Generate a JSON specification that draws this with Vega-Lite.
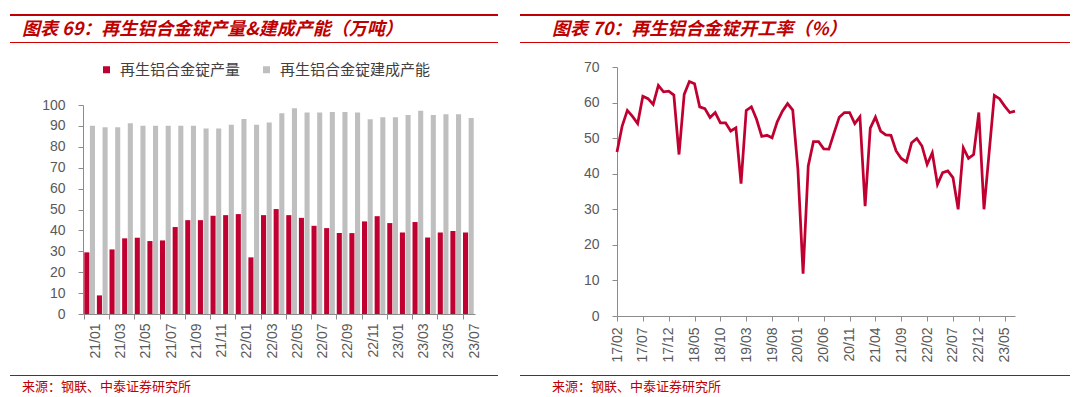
{
  "$schema": "https://vega.github.io/schema/vega-lite/v6.json",
  "padding": {"left": 10, "right": 10, "top": 14, "bottom": 0},
  "spacing": 22,
  "resolve": {"scale": {"color": "independent"}, "legend": {"color": "independent"}},
  "config": {
    "view": {"stroke": null},
    "axis": {"grid": false, "domainColor": "#8c8c8c", "tickColor": "#8c8c8c", "labelColor": "#595959", "labelFont": "Liberation Sans", "labelFontSize": 14, "tickSize": 5, "titleFontSize": 0}
  },
  "hconcat": [
    {
      "spacing": 0,
      "resolve": {"scale": {"color": "independent"}, "legend": {"color": "independent"}},
      "vconcat": [
        {"data": {"values": []}, "mark": "point", "encoding": {}, "width": 488, "height": 2, "view": {"fill": "#c00000", "stroke": null}},
        {"data": {"values": []}, "mark": "point", "encoding": {}, "width": 488, "height": 5},
        {"data": {"values": []}, "mark": "point", "encoding": {}, "width": 488, "height": 1, "view": {"fill": "#cc0000", "stroke": null},
         "title": {"text": "图表 69：再生铝合金锭产量&建成产能（万吨）", "anchor": "start", "offset": 3, "dx": 12, "fontSize": 18, "fontStyle": "italic", "fontWeight": "bold", "color": "#c00000", "font": "Noto Sans CJK SC"}},
        {"data": {"values": []}, "mark": "point", "encoding": {}, "width": 488, "height": 19},
        {
          "spacing": 0,
          "resolve": {"scale": {"color": "independent"}, "legend": {"color": "independent"}},
          "hconcat": [
            {"data": {"values": []}, "mark": "point", "encoding": {}, "width": 31, "height": 1},
            {
              "width": 392,
              "height": 209,
              "data": {"values": [
                {"month": "21/01", "series": "再生铝合金锭产量", "value": 29.5},
                {"month": "21/02", "series": "再生铝合金锭产量", "value": 8.9},
                {"month": "21/03", "series": "再生铝合金锭产量", "value": 30.9},
                {"month": "21/04", "series": "再生铝合金锭产量", "value": 36.2},
                {"month": "21/05", "series": "再生铝合金锭产量", "value": 36.5},
                {"month": "21/06", "series": "再生铝合金锭产量", "value": 34.9},
                {"month": "21/07", "series": "再生铝合金锭产量", "value": 35.2},
                {"month": "21/08", "series": "再生铝合金锭产量", "value": 41.6},
                {"month": "21/09", "series": "再生铝合金锭产量", "value": 44.9},
                {"month": "21/10", "series": "再生铝合金锭产量", "value": 44.9},
                {"month": "21/11", "series": "再生铝合金锭产量", "value": 47.0},
                {"month": "21/12", "series": "再生铝合金锭产量", "value": 47.3},
                {"month": "22/01", "series": "再生铝合金锭产量", "value": 47.8},
                {"month": "22/02", "series": "再生铝合金锭产量", "value": 27.1},
                {"month": "22/03", "series": "再生铝合金锭产量", "value": 47.3},
                {"month": "22/04", "series": "再生铝合金锭产量", "value": 50.2},
                {"month": "22/05", "series": "再生铝合金锭产量", "value": 47.3},
                {"month": "22/06", "series": "再生铝合金锭产量", "value": 46.0},
                {"month": "22/07", "series": "再生铝合金锭产量", "value": 42.2},
                {"month": "22/08", "series": "再生铝合金锭产量", "value": 41.1},
                {"month": "22/09", "series": "再生铝合金锭产量", "value": 38.7},
                {"month": "22/10", "series": "再生铝合金锭产量", "value": 38.7},
                {"month": "22/11", "series": "再生铝合金锭产量", "value": 44.3},
                {"month": "22/12", "series": "再生铝合金锭产量", "value": 46.8},
                {"month": "23/01", "series": "再生铝合金锭产量", "value": 43.5},
                {"month": "23/02", "series": "再生铝合金锭产量", "value": 39.0},
                {"month": "23/03", "series": "再生铝合金锭产量", "value": 44.0},
                {"month": "23/04", "series": "再生铝合金锭产量", "value": 36.6},
                {"month": "23/05", "series": "再生铝合金锭产量", "value": 39.0},
                {"month": "23/06", "series": "再生铝合金锭产量", "value": 39.7},
                {"month": "23/07", "series": "再生铝合金锭产量", "value": 39.0},
                {"month": "21/01", "series": "再生铝合金锭建成产能", "value": 90.1},
                {"month": "21/02", "series": "再生铝合金锭建成产能", "value": 89.3},
                {"month": "21/03", "series": "再生铝合金锭建成产能", "value": 89.3},
                {"month": "21/04", "series": "再生铝合金锭建成产能", "value": 91.3},
                {"month": "21/05", "series": "再生铝合金锭建成产能", "value": 90.1},
                {"month": "21/06", "series": "再生铝合金锭建成产能", "value": 90.1},
                {"month": "21/07", "series": "再生铝合金锭建成产能", "value": 90.1},
                {"month": "21/08", "series": "再生铝合金锭建成产能", "value": 90.1},
                {"month": "21/09", "series": "再生铝合金锭建成产能", "value": 90.1},
                {"month": "21/10", "series": "再生铝合金锭建成产能", "value": 88.7},
                {"month": "21/11", "series": "再生铝合金锭建成产能", "value": 88.7},
                {"month": "21/12", "series": "再生铝合金锭建成产能", "value": 90.5},
                {"month": "22/01", "series": "再生铝合金锭建成产能", "value": 93.3},
                {"month": "22/02", "series": "再生铝合金锭建成产能", "value": 90.5},
                {"month": "22/03", "series": "再生铝合金锭建成产能", "value": 91.6},
                {"month": "22/04", "series": "再生铝合金锭建成产能", "value": 96.0},
                {"month": "22/05", "series": "再生铝合金锭建成产能", "value": 98.4},
                {"month": "22/06", "series": "再生铝合金锭建成产能", "value": 96.4},
                {"month": "22/07", "series": "再生铝合金锭建成产能", "value": 96.4},
                {"month": "22/08", "series": "再生铝合金锭建成产能", "value": 96.7},
                {"month": "22/09", "series": "再生铝合金锭建成产能", "value": 96.7},
                {"month": "22/10", "series": "再生铝合金锭建成产能", "value": 96.4},
                {"month": "22/11", "series": "再生铝合金锭建成产能", "value": 93.2},
                {"month": "22/12", "series": "再生铝合金锭建成产能", "value": 94.1},
                {"month": "23/01", "series": "再生铝合金锭建成产能", "value": 94.1},
                {"month": "23/02", "series": "再生铝合金锭建成产能", "value": 95.2},
                {"month": "23/03", "series": "再生铝合金锭建成产能", "value": 97.3},
                {"month": "23/04", "series": "再生铝合金锭建成产能", "value": 95.2},
                {"month": "23/05", "series": "再生铝合金锭建成产能", "value": 95.6},
                {"month": "23/06", "series": "再生铝合金锭建成产能", "value": 95.6},
                {"month": "23/07", "series": "再生铝合金锭建成产能", "value": 93.8}
              ]},
              "mark": {"type": "bar"},
              "encoding": {
                "x": {"field": "month", "type": "ordinal", "sort": null, "title": null,
                      "scale": {"paddingInner": 0.15, "paddingOuter": 0.1},
                      "axis": {"values": ["21/01","21/03","21/05","21/07","21/09","21/11","22/01","22/03","22/05","22/07","22/09","22/11","23/01","23/03","23/05","23/07"],
                               "labelAngle": -90, "bandPosition": 0, "labelOffset": 6.3, "labelPadding": 4}},
                "xOffset": {"field": "series", "type": "nominal", "sort": ["再生铝合金锭产量", "再生铝合金锭建成产能"], "scale": {"paddingInner": 0.1}},
                "y": {"field": "value", "type": "quantitative", "title": null, "scale": {"domain": [0, 100]},
                      "axis": {"values": [0,10,20,30,40,50,60,70,80,90,100], "labelPadding": 13}},
                "color": {"field": "series", "type": "nominal", "sort": ["再生铝合金锭产量", "再生铝合金锭建成产能"],
                          "scale": {"domain": ["再生铝合金锭产量", "再生铝合金锭建成产能"], "range": ["#c00031", "#bfbfbf"]},
                          "legend": {"orient": "none", "legendX": 16, "legendY": -43, "direction": "horizontal", "title": null,
                                     "symbolType": "square", "symbolSize": 49, "symbolStrokeWidth": 0, "labelFontSize": 15,
                                     "labelFont": "Noto Sans CJK SC", "labelColor": "#404040", "columnPadding": 18, "labelLimit": 300, "labelOffset": 6}}
              }
            }
          ]
        },
        {"data": {"values": []}, "mark": "point", "encoding": {}, "width": 488, "height": 16},
        {"data": {"values": []}, "mark": "point", "encoding": {}, "width": 488, "height": 1, "view": {"fill": "#cc0000", "stroke": null},
         "title": {"text": "来源：钢联、中泰证券研究所", "orient": "bottom", "anchor": "start", "offset": 5, "dx": 12, "fontSize": 13, "fontWeight": "normal", "color": "#c00000", "font": "Noto Sans CJK SC"}}
      ]
    },
    {
      "spacing": 0,
      "vconcat": [
        {"data": {"values": []}, "mark": "point", "encoding": {}, "width": 550, "height": 2, "view": {"fill": "#c00000", "stroke": null}},
        {"data": {"values": []}, "mark": "point", "encoding": {}, "width": 550, "height": 5},
        {"data": {"values": []}, "mark": "point", "encoding": {}, "width": 550, "height": 1, "view": {"fill": "#cc0000", "stroke": null},
         "title": {"text": "图表 70：再生铝合金锭开工率（%）", "anchor": "start", "offset": 3, "dx": 32, "fontSize": 18, "fontStyle": "italic", "fontWeight": "bold", "color": "#c00000", "font": "Noto Sans CJK SC"}},
        {"data": {"values": []}, "mark": "point", "encoding": {}, "width": 550, "height": 17},
        {
          "spacing": 0,
          "hconcat": [
            {"data": {"values": []}, "mark": "point", "encoding": {}, "width": 63, "height": 1},
            {
              "width": 398,
              "height": 249,
              "data": {"values": [
                {"month": "17/02", "rate": 46.1}, {"month": "17/03", "rate": 53.4}, {"month": "17/04", "rate": 57.8},
                {"month": "17/05", "rate": 56.1}, {"month": "17/06", "rate": 54.1}, {"month": "17/07", "rate": 61.8},
                {"month": "17/08", "rate": 61.1}, {"month": "17/09", "rate": 59.5}, {"month": "17/10", "rate": 64.8},
                {"month": "17/11", "rate": 63.0}, {"month": "17/12", "rate": 63.2}, {"month": "18/01", "rate": 62.1},
                {"month": "18/02", "rate": 45.4}, {"month": "18/03", "rate": 62.3}, {"month": "18/04", "rate": 65.9},
                {"month": "18/05", "rate": 65.3}, {"month": "18/06", "rate": 58.8}, {"month": "18/07", "rate": 58.3},
                {"month": "18/08", "rate": 55.8}, {"month": "18/09", "rate": 57.2}, {"month": "18/10", "rate": 54.3},
                {"month": "18/11", "rate": 54.3}, {"month": "18/12", "rate": 52.0}, {"month": "19/01", "rate": 52.9},
                {"month": "19/02", "rate": 37.2}, {"month": "19/03", "rate": 57.8}, {"month": "19/04", "rate": 58.8},
                {"month": "19/05", "rate": 55.3}, {"month": "19/06", "rate": 50.5}, {"month": "19/07", "rate": 50.8},
                {"month": "19/08", "rate": 50.1}, {"month": "19/09", "rate": 54.6}, {"month": "19/10", "rate": 57.6},
                {"month": "19/11", "rate": 59.7}, {"month": "19/12", "rate": 57.9}, {"month": "20/01", "rate": 41.2},
                {"month": "20/02", "rate": 11.9}, {"month": "20/03", "rate": 42.2}, {"month": "20/04", "rate": 49.0},
                {"month": "20/05", "rate": 49.0}, {"month": "20/06", "rate": 47.0}, {"month": "20/07", "rate": 46.9},
                {"month": "20/08", "rate": 51.5}, {"month": "20/09", "rate": 55.9}, {"month": "20/10", "rate": 57.2},
                {"month": "20/11", "rate": 57.2}, {"month": "20/12", "rate": 54.1}, {"month": "21/01", "rate": 56.0},
                {"month": "21/02", "rate": 30.9}, {"month": "21/03", "rate": 52.8}, {"month": "21/04", "rate": 55.9},
                {"month": "21/05", "rate": 52.0}, {"month": "21/06", "rate": 50.9}, {"month": "21/07", "rate": 50.8},
                {"month": "21/08", "rate": 46.4}, {"month": "21/09", "rate": 44.3}, {"month": "21/10", "rate": 43.3},
                {"month": "21/11", "rate": 48.7}, {"month": "21/12", "rate": 49.9}, {"month": "22/01", "rate": 47.8},
                {"month": "22/02", "rate": 42.6}, {"month": "22/03", "rate": 45.9}, {"month": "22/04", "rate": 37.0},
                {"month": "22/05", "rate": 40.3}, {"month": "22/06", "rate": 40.8}, {"month": "22/07", "rate": 38.9},
                {"month": "22/08", "rate": 30.0}, {"month": "22/09", "rate": 47.3}, {"month": "22/10", "rate": 44.3},
                {"month": "22/11", "rate": 45.4}, {"month": "22/12", "rate": 57.2}, {"month": "23/01", "rate": 30.0},
                {"month": "23/02", "rate": 46.0}, {"month": "23/03", "rate": 62.0}, {"month": "23/04", "rate": 61.1},
                {"month": "23/05", "rate": 59.0}, {"month": "23/06", "rate": 57.2}, {"month": "23/07", "rate": 57.6}
              ]},
              "mark": {"type": "line", "color": "#c00031", "strokeWidth": 2.75},
              "encoding": {
                "x": {"field": "month", "type": "ordinal", "sort": null, "title": null,
                      "scale": {"type": "point", "padding": 0},
                      "axis": {"values": ["17/02","17/07","17/12","18/05","18/10","19/03","19/08","20/01","20/06","20/11","21/04","21/09","22/02","22/07","22/12","23/05"],
                               "labelAngle": -90, "labelPadding": 6}},
                "y": {"field": "rate", "type": "quantitative", "title": null, "scale": {"domain": [0, 70]},
                      "axis": {"values": [0,10,20,30,40,50,60,70], "labelPadding": 13}}
              }
            }
          ]
        },
        {"data": {"values": []}, "mark": "point", "encoding": {}, "width": 550, "height": 12},
        {"data": {"values": []}, "mark": "point", "encoding": {}, "width": 550, "height": 1, "view": {"fill": "#cc0000", "stroke": null},
         "title": {"text": "来源：钢联、中泰证券研究所", "orient": "bottom", "anchor": "start", "offset": 5, "dx": 32, "fontSize": 13, "fontWeight": "normal", "color": "#c00000", "font": "Noto Sans CJK SC"}}
      ]
    }
  ]
}
